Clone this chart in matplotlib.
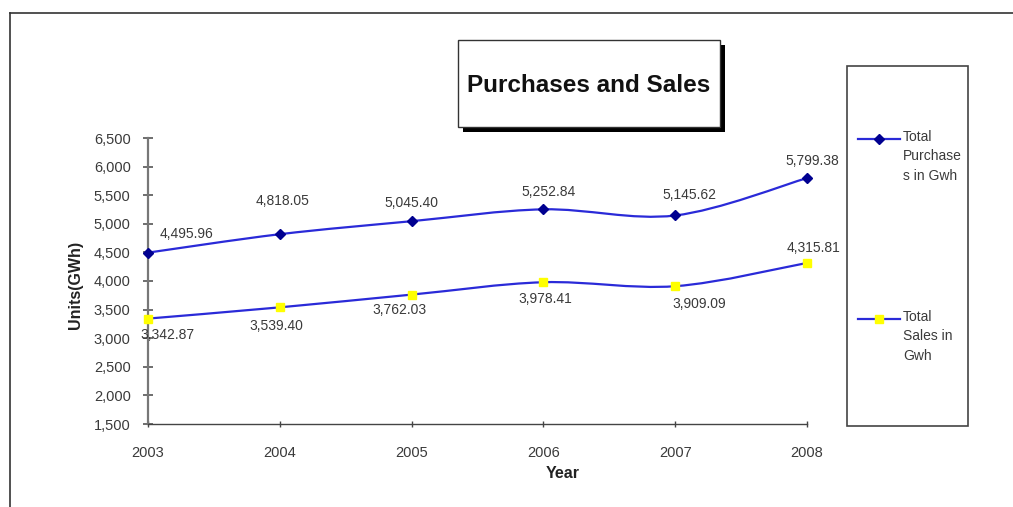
import numpy as np
import matplotlib
matplotlib.use('Agg')
import matplotlib.pyplot as plt
from matplotlib.path import Path
from matplotlib.patches import PathPatch, Rectangle
from matplotlib.lines import Line2D

plt.rcParams['font.family'] = ['Liberation Sans', 'DejaVu Sans']

years = ['2003', '2004', '2005', '2006', '2007', '2008']
purchases = [4495.96, 4818.05, 5045.40, 5252.84, 5145.62, 5799.38]
sales = [3342.87, 3539.40, 3762.03, 3978.41, 3909.09, 4315.81]
purchase_lbl = ['4,495.96', '4,818.05', '5,045.40', '5,252.84', '5,145.62', '5,799.38']
sales_lbl = ['3,342.87', '3,539.40', '3,762.03', '3,978.41', '3,909.09', '4,315.81']
y_ticks = [1500, 2000, 2500, 3000, 3500, 4000, 4500, 5000, 5500, 6000, 6500]

# label offsets in pixels (dx right, dy up) -- hand placed like the source sheet
p_off = [(39, 19), (3, 33), (0, 18), (5, 17), (14, 20), (5, 17)]
s_off = [(19, -16), (-3, -19), (-12, -15), (2, -17), (24, -18), (6, 15)]

W, H = 1013, 507
LINE = '#2a2ad8'
TXT = '#3a3a3a'


def fx(px):
    return px / W


def fy(py):
    return 1 - py / H


def smooth_path(xs, ys):
    # excel-style smoothed line: cubic bezier through every point
    pts = np.column_stack([xs, ys]).astype(float)
    n = len(pts)
    verts = [pts[0]]
    codes = [Path.MOVETO]
    for i in range(n - 1):
        p0 = pts[i - 1] if i > 0 else pts[i]
        p1, p2 = pts[i], pts[i + 1]
        p3 = pts[i + 2] if i + 2 < n else pts[i + 1]
        c1 = p1 + (p2 - p0) / 6.0
        c2 = p2 - (p3 - p1) / 6.0
        verts += [c1, c2, p2]
        codes += [Path.CURVE4] * 3
    return Path(verts, codes)


fig = plt.figure(figsize=(W / 100, H / 100), dpi=100)
ax = fig.add_axes([fx(148), fy(424), fx(807) - fx(148), fy(138) - fy(424)])

x = np.arange(len(years))
for vals, mk, mc in [(purchases, 'D', '#000090'), (sales, 's', '#ffff00')]:
    ax.add_patch(PathPatch(smooth_path(x, vals), facecolor='none',
                           edgecolor=LINE, lw=1.6, zorder=3, clip_on=False))
    ax.plot(x, vals, ls='none', marker=mk, ms=5.5, mfc=mc, mec=mc,
            zorder=4, clip_on=False)

for xi, v, t, (dx, dy) in zip(x, purchases, purchase_lbl, p_off):
    ax.annotate(t, (xi, v), xytext=(dx * 0.72, dy * 0.72),
                textcoords='offset points', ha='center', va='center',
                fontsize=10, color=TXT)
for xi, v, t, (dx, dy) in zip(x, sales, sales_lbl, s_off):
    ax.annotate(t, (xi, v), xytext=(dx * 0.72, dy * 0.72),
                textcoords='offset points', ha='center', va='center',
                fontsize=10, color=TXT)

ax.set_xlim(0, len(years) - 1)
ax.set_ylim(1500, 6500)
ax.set_xticks(x)
ax.set_xticklabels(years)
ax.set_yticks(y_ticks)
ax.set_yticklabels([f'{v:,}' for v in y_ticks])
ax.tick_params(axis='y', direction='inout', length=7, width=1.2,
               colors='#555555', labelcolor=TXT, labelsize=10.5, pad=9)
ax.tick_params(axis='x', direction='inout', length=5, width=1.0,
               colors='#444444', labelcolor=TXT, labelsize=10.5, pad=13)
for s in ['top', 'right']:
    ax.spines[s].set_visible(False)
ax.spines['left'].set_color('#777777')
ax.spines['left'].set_linewidth(1.6)
ax.spines['bottom'].set_color('#444444')
ax.spines['bottom'].set_linewidth(1.0)
ax.patch.set_alpha(0)

fig.text(fx(75), fy(285), 'Units(GWh)', rotation=90, ha='center', va='center',
         fontsize=11.5, fontweight='bold', color='#222222')
fig.text(fx(563), fy(473), 'Year', ha='center', va='center',
         fontsize=11.5, fontweight='bold', color='#222222')

# outer sheet frame
fig.add_artist(Line2D([fx(10), fx(10)], [0, fy(13)], color='#333333', lw=1.2))
fig.add_artist(Line2D([fx(10), 1], [fy(13), fy(13)], color='#333333', lw=1.2))

# title box with drop shadow
bx0, by0, bx1, by1 = 458, 40, 720, 127
fig.add_artist(Rectangle((fx(bx0 + 5), fy(by1 + 5)), fx(bx1 - bx0), fy(by0) - fy(by1),
                         transform=fig.transFigure, facecolor='black', edgecolor='none'))
fig.add_artist(Rectangle((fx(bx0), fy(by1)), fx(bx1 - bx0), fy(by0) - fy(by1),
                         transform=fig.transFigure, facecolor='white',
                         edgecolor='#333333', lw=1.0))
fig.text(fx((bx0 + bx1) / 2), fy(86), 'Purchases and Sales', ha='center',
         va='center', fontsize=17.5, fontweight='bold', color='#111111')

# legend box
lx0, ly0, lx1, ly1 = 847, 66, 968, 426
fig.add_artist(Rectangle((fx(lx0), fy(ly1)), fx(lx1 - lx0), fy(ly0) - fy(ly1),
                         transform=fig.transFigure, facecolor='white',
                         edgecolor='#444444', lw=1.2))
leg = [(139, 'D', '#000090', 'Total\nPurchase\ns in Gwh'),
       (319, 's', '#ffff00', 'Total\nSales in\nGwh')]
for yy, mk, mc, lab in leg:
    fig.add_artist(Line2D([fx(858), fx(900)], [fy(yy), fy(yy)], color=LINE, lw=1.6))
    fig.add_artist(Line2D([fx(879)], [fy(yy)], ls='none', marker=mk, ms=5.5,
                          mfc=mc, mec=mc))
    fig.text(fx(903), fy(yy - 9), lab, ha='left', va='top', fontsize=10,
             color=TXT, linespacing=1.5)

fig.savefig('out.png', dpi=100)
